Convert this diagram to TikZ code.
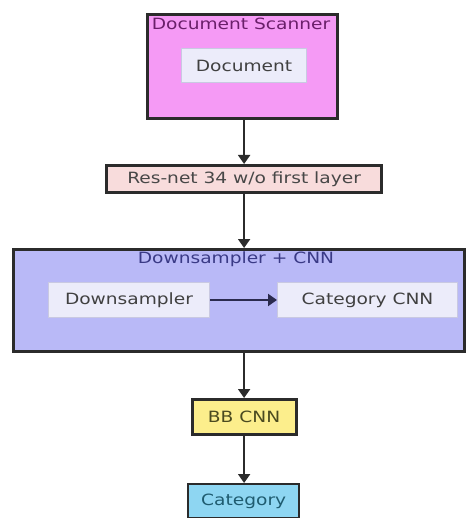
\documentclass[tikz,border=0pt]{standalone}
\usepackage{fontspec}
\setmainfont[FakeStretch=1.2]{DejaVu Sans}
\usetikzlibrary{arrows.meta}
\definecolor{scanfill}{HTML}{F59AF5}
\definecolor{scantext}{HTML}{6A1F6A}
\definecolor{resfill}{HTML}{F8DCDC}
\definecolor{dsfill}{HTML}{B9B9F7}
\definecolor{dstext}{HTML}{3A3A86}
\definecolor{innerfill}{HTML}{ECECFA}
\definecolor{innerline}{HTML}{C9C9E2}
\definecolor{bbfill}{HTML}{FCEE8C}
\definecolor{bbtext}{HTML}{4A4A20}
\definecolor{catfill}{HTML}{8ED6F2}
\definecolor{cattext}{HTML}{1F5C70}
\definecolor{edge}{HTML}{2B2B2B}
\definecolor{navyedge}{HTML}{2A2A4E}
\tikzset{
  txt/.style={font=\fontsize{15.5}{18}\selectfont},
  frame/.style={draw=edge, line width=3.2pt, inner sep=0pt, anchor=north west, txt},
  innerbox/.style={draw=innerline, line width=1pt, fill=innerfill, inner sep=0pt,
    anchor=north west, text=black!75, txt},
  label/.style={txt, inner sep=0pt},
  flow/.style={draw=edge, line width=2pt, -{Triangle[length=9pt,width=12pt]}},
}
\begin{document}
\begin{tikzpicture}[x=1pt,y=-1pt]
\useasboundingbox (0,0) rectangle (466,518);

% Document scanner group
\node[frame, fill=scanfill, minimum width=190pt, minimum height=104pt] (scan) at (146,13) {};
\node[label, text=scantext] (scantitle) at (241,24) {Document Scanner};
\node[innerbox, minimum width=125pt, minimum height=34pt] (doc) at (181,48) {Document};

% Backbone
\node[frame, fill=resfill, minimum width=275pt, minimum height=27pt,
  text=black!72] (res) at (105,164) {Res-net 34 w/o first layer};

% Downsampler + CNN group
\node[frame, fill=dsfill, minimum width=451pt, minimum height=102pt] (ds) at (12,248) {};
\node[label, text=dstext] (dstitle) at (236,259) {Downsampler + CNN};
\node[innerbox, minimum width=161pt, minimum height=35pt] (down) at (48,282) {Downsampler};
\node[innerbox, minimum width=180pt, minimum height=35pt] (catcnn) at (277,282) {Category CNN};

% Heads
\node[frame, fill=bbfill, minimum width=104pt, minimum height=35pt,
  text=bbtext] (bb) at (190.5,398) {BB CNN};
\node[frame, line width=2.4pt, fill=catfill, minimum width=111pt, minimum height=34pt,
  text=cattext] (cat) at (187,483) {Category};

% Connectors: one vertical spine through the stack
\draw[flow] (res.north |- scan.south) -- (res.north);
\draw[flow] (res.south) -- (ds.north -| res.south);
\draw[flow, draw=navyedge] (down.east) -- (catcnn.west);
\draw[flow] (ds.south -| bb.north) -- (bb.north);
\draw[flow] (bb.south) -- (bb.south |- cat.north);
\end{tikzpicture}
\end{document}
